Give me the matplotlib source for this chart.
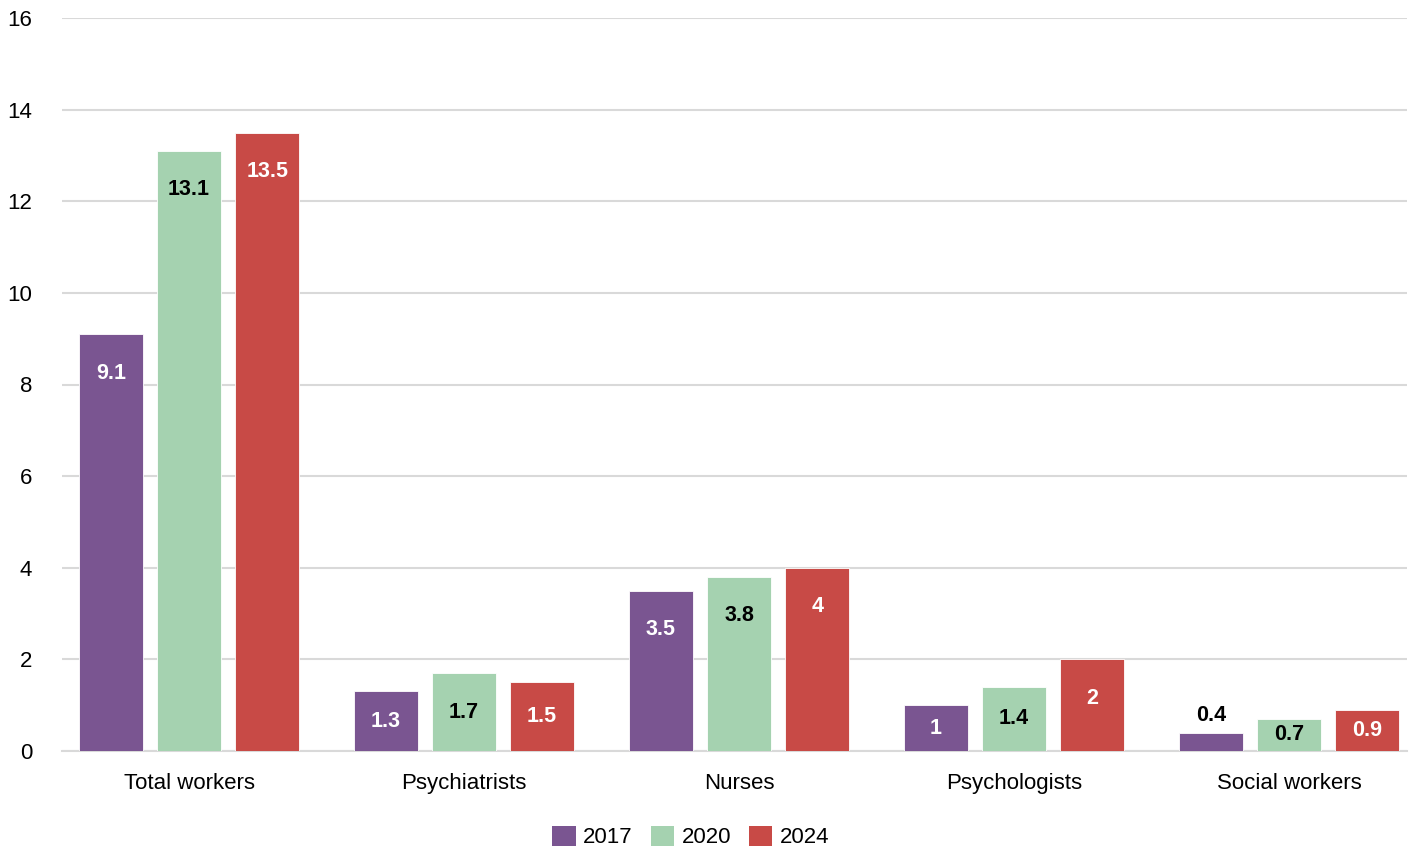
import numpy as np
import matplotlib.pyplot as plt
from matplotlib.patches import Patch

plt.rcParams['font.family'] = ['Liberation Sans', 'DejaVu Sans']

categories = ['Total workers', 'Psychiatrists', 'Nurses', 'Psychologists', 'Social workers']
years = ['2017', '2020', '2024']
values_2017 = [9.1, 1.3, 3.5, 1.0, 0.4]
values_2020 = [13.1, 1.7, 3.8, 1.4, 0.7]
values_2024 = [13.5, 1.5, 4.0, 2.0, 0.9]

colors = ['#7a5591', '#a5d2b0', '#c84a46']
label_colors = ['white', 'black', 'white']

fig = plt.figure(figsize=(14.13, 8.5), dpi=100)
# axes box in pixels: x 62..1407, y 18..751 (from top)
ax = fig.add_axes([62 / 1413, (850 - 751) / 850, (1407 - 62) / 1413, (751 - 18) / 850])

x = np.arange(len(categories))
width = 0.233
step = 0.284
series = [values_2017, values_2020, values_2024]

for i, vals in enumerate(series):
    pos = x + (i - 1) * step
    ax.bar(pos, vals, width, color=colors[i], edgecolor='white', linewidth=0.6, zorder=3)
    for p, v in zip(pos, vals):
        if v < 0.6:
            # too short, label goes above the bar
            ax.text(p, v + 0.38, f'{v:g}', ha='center', va='center',
                    fontsize=15.5, fontweight='bold', color='black', zorder=4)
        else:
            y = max(v - 0.85, v / 2)
            ax.text(p, y, f'{v:g}', ha='center', va='center',
                    fontsize=15.5, fontweight='bold', color=label_colors[i], zorder=4)

ax.set_xlim(-0.462, 4.429)
ax.set_ylim(0, 16)
ax.set_yticks(range(0, 17, 2))
ax.set_xticks(x)
ax.set_xticklabels(categories)
ax.tick_params(axis='both', length=0, labelsize=16, colors='black')
ax.tick_params(axis='y', pad=21.5)
ax.tick_params(axis='x', pad=16)
for lbl in ax.get_yticklabels():
    lbl.set_horizontalalignment('right')

ax.grid(axis='y', color='#d9d9d9', linewidth=1.5, zorder=0)
for s in ['top', 'right', 'left']:
    ax.spines[s].set_visible(False)
ax.spines['bottom'].set_color('#d9d9d9')
ax.spines['bottom'].set_linewidth(1.5)

handles = [Patch(facecolor=c, edgecolor='none') for c in colors]
fig.legend(handles, years, loc='center', bbox_to_anchor=(691 / 1413, 1 - 837 / 850),
           ncol=3, frameon=False, fontsize=16, handlelength=1.05, handleheight=1.05,
           handletextpad=0.35, columnspacing=0.8)

fig.savefig('out.png', dpi=100)
